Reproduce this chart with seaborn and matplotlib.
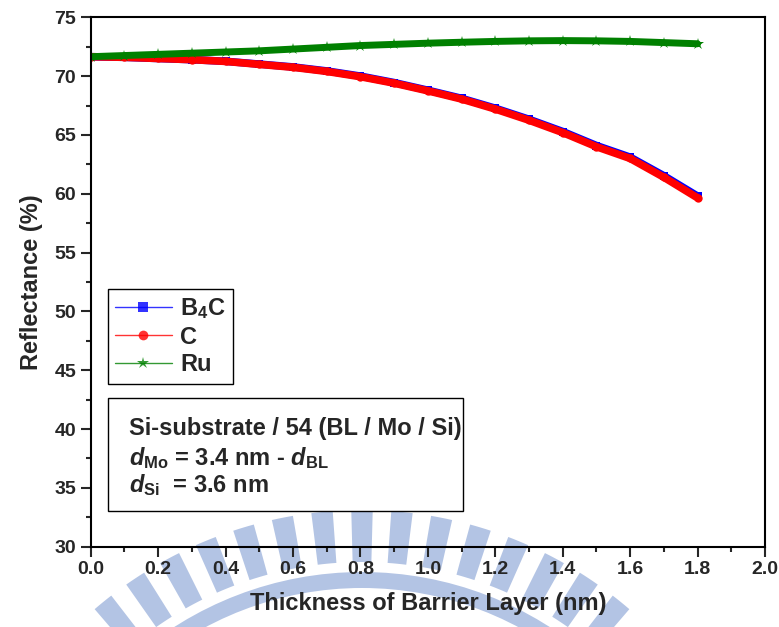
import numpy as np
import pandas as pd
import matplotlib
matplotlib.use("Agg")
import matplotlib.pyplot as plt
import seaborn as sns
from matplotlib.lines import Line2D
from matplotlib.patches import Rectangle, Wedge
from matplotlib.transforms import IdentityTransform
from matplotlib.ticker import MultipleLocator

# ---- data ----
thickness = [0.0, 0.1, 0.2, 0.3, 0.4, 0.5, 0.6, 0.7, 0.8, 0.9,
             1.0, 1.1, 1.2, 1.3, 1.4, 1.5, 1.6, 1.7, 1.8]
refl_b4c = [71.65, 71.60, 71.50, 71.40, 71.26, 71.02, 70.78, 70.44, 70.00, 69.45,
            68.80, 68.11, 67.27, 66.33, 65.29, 64.10, 63.11, 61.53, 59.80]
refl_c = [71.65, 71.60, 71.50, 71.40, 71.25, 71.00, 70.75, 70.40, 69.95, 69.40,
          68.75, 68.05, 67.20, 66.25, 65.20, 64.00, 63.00, 61.40, 59.65]
refl_ru = [71.65, 71.75, 71.85, 71.95, 72.05, 72.15, 72.30, 72.45, 72.60, 72.70,
           72.80, 72.88, 72.95, 73.00, 73.02, 73.00, 72.95, 72.85, 72.75]
series_labels = ["B$_4$C", "C", "Ru"]
x_ticks = [0.0, 0.2, 0.4, 0.6, 0.8, 1.0, 1.2, 1.4, 1.6, 1.8, 2.0]
y_ticks = [30, 35, 40, 45, 50, 55, 60, 65, 70, 75]
x_label = "Thickness of Barrier Layer (nm)"
y_label = "Reflectance (%)"
box_lines = ["Si-substrate / 54 (BL / Mo / Si)",
             r"$d_{\mathrm{Mo}}$ = 3.4 nm - $d_{\mathrm{BL}}$",
             r"$d_{\mathrm{Si}}$  = 3.6 nm"]

colors = {"B$_4$C": "#0000ff", "C": "#ff0000", "Ru": "#008000"}
markers = {"B$_4$C": "s", "C": "o", "Ru": "*"}

sns.set_style("white")
plt.rcParams["font.family"] = ["Liberation Sans", "DejaVu Sans"]
plt.rcParams["font.weight"] = "bold"
plt.rcParams["mathtext.fontset"] = "custom"
plt.rcParams["mathtext.rm"] = "Liberation Sans:bold"
plt.rcParams["mathtext.bf"] = "Liberation Sans:bold"
plt.rcParams["mathtext.it"] = "Liberation Sans:italic:bold"
plt.rcParams["mathtext.default"] = "it"

df = pd.DataFrame({
    "x": thickness * 3,
    "R": refl_b4c + refl_c + refl_ru,
    "series": [series_labels[0]] * len(thickness) + [series_labels[1]] * len(thickness)
              + [series_labels[2]] * len(thickness),
})

W, H = 779, 627
fig = plt.figure(figsize=(W / 100, H / 100), dpi=100)
L, R, T, B = 90.7, 765.0, 17.3, 546.7
ax = fig.add_axes([L / W, 1 - B / H, (R - L) / W, (B - T) / H])
ax.set_facecolor("none")

# faint background watermark (decoration)
wm_col = "#b3c4e4"
cx, cy = 362, H - 920
for k in range(-7, 8):
    ang = 90 + k * 5.6
    fig.patches.append(Wedge((cx, cy), 410, ang - 1.5, ang + 1.5, width=52,
                             transform=IdentityTransform(), facecolor=wm_col,
                             edgecolor="none", zorder=-5))
fig.patches.append(Wedge((cx, cy), 348, 48, 132, width=16,
                         transform=IdentityTransform(), facecolor=wm_col,
                         edgecolor="none", zorder=-5))

sns.lineplot(data=df, x="x", y="R", hue="series", style="series",
             hue_order=series_labels, style_order=series_labels,
             palette=colors, markers=markers, dashes=False,
             linewidth=5.5, markersize=6, markeredgewidth=0,
             legend=False, sort=False, ax=ax)
for line, lab in zip(ax.get_lines(), series_labels):
    if lab == "Ru":
        line.set_linewidth(5.0)
        line.set_markersize(9)

ax.set_xlim(0, 2.0)
ax.set_ylim(30, 75)
ax.set_xticks(x_ticks)
ax.set_yticks(y_ticks)
ax.set_xticklabels([f"{v:.1f}" for v in x_ticks])
ax.set_yticklabels([str(v) for v in y_ticks])
ax.xaxis.set_minor_locator(MultipleLocator(0.1))
ax.yaxis.set_minor_locator(MultipleLocator(2.5))
ax.tick_params(axis="both", which="major", direction="out", length=7.5, width=1.5,
               labelsize=14, pad=3, bottom=True, left=True, top=False, right=False)
ax.tick_params(axis="both", which="minor", direction="out", length=3.5, width=1.5,
               bottom=True, left=True, top=False, right=False)
for lab in ax.get_xticklabels() + ax.get_yticklabels():
    lab.set_fontweight("bold")
for sp in ax.spines.values():
    sp.set_visible(True)
    sp.set_linewidth(1.5)
    sp.set_color("black")

ax.set_xlabel(x_label, fontsize=17, fontweight="bold", labelpad=10)
ax.set_ylabel(y_label, fontsize=17, fontweight="bold", labelpad=8)

# legend
handles = [Line2D([0], [0], color=colors[s], lw=1, alpha=0.8, marker=markers[s],
                  markersize=(9 if s == "Ru" else 7), markeredgewidth=0)
           for s in series_labels]
leg = ax.legend(handles, series_labels, loc="upper left",
                bbox_to_anchor=((108 - L) / (R - L), (B - 289) / (B - T)),
                borderaxespad=0, frameon=True, fancybox=False, edgecolor="black",
                framealpha=1, prop={"size": 17, "weight": "bold"},
                handlelength=2.4, handletextpad=0.35, labelspacing=0.2,
                borderpad=0.3)
leg.get_frame().set_linewidth(1.0)

# info box
ax.add_patch(Rectangle(((108 - L) / (R - L), (B - 511) / (B - T)),
                       (463 - 108) / (R - L), (511 - 398) / (B - T),
                       transform=ax.transAxes, fill=True, facecolor="white",
                       edgecolor="black", lw=1.0, zorder=5))
for txt, yb in zip(box_lines, [435, 465, 492]):
    ax.text((129 - L) / (R - L), (B - yb) / (B - T), txt, transform=ax.transAxes,
            fontsize=17, fontweight="bold", va="baseline", ha="left", zorder=6)

fig.savefig("out.png", dpi=100)
